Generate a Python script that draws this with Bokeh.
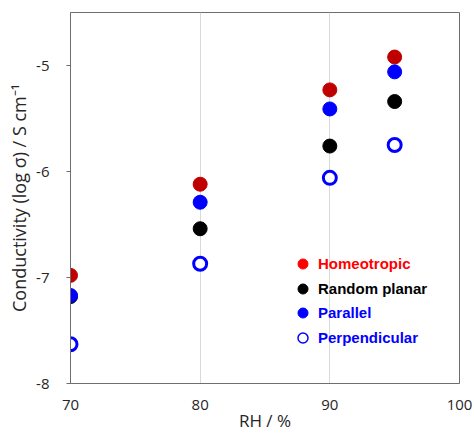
import numpy as np
from bokeh.plotting import figure
from bokeh.models import Legend, LegendItem, FixedTicker, Range1d
from bokeh.embed import file_html
from bokeh.resources import INLINE

# ---- data ----
rh = [70, 80, 90, 95]
homeotropic = [-6.98, -6.12, -5.23, -4.92]
random_planar = [-7.18, -6.54, -5.76, -5.34]
parallel = [-7.17, -6.29, -5.41, -5.06]
perpendicular = [-7.63, -6.87, -6.06, -5.75]

series_names = ["Homeotropic", "Random planar", "Parallel", "Perpendicular"]
marker_colors = ["#c00000", "#000000", "#0000ff", "#0000ff"]
legend_colors = ["#ff0000", "#000000", "#0000ff", "#0000ff"]
x_ticks = [70, 80, 90, 100]
y_ticks = [-8, -7, -6, -5]
y_tick_labels = ["-8", "-7", "-6", "-5"]

p = figure(
    frame_width=389, frame_height=371,
    min_border_left=70, min_border_right=15, min_border_top=12, min_border_bottom=53,
    x_range=Range1d(70, 100), y_range=Range1d(-8, -4.5),
    output_backend="svg", toolbar_location=None,
)
p.background_fill_color = "white"
p.border_fill_color = "white"
p.outline_line_color = "#6e6e6e"
p.outline_line_width = 1

# axes
p.xaxis.ticker = FixedTicker(ticks=x_ticks)
p.yaxis.ticker = FixedTicker(ticks=y_ticks)
p.yaxis.major_label_overrides = {t: s for t, s in zip(y_ticks, y_tick_labels)}
p.xaxis.axis_label = "RH / %"
p.yaxis.axis_label = "Conductivity (log σ) / S cm⁻¹"
for ax in (p.xaxis[0], p.yaxis[0]):
    ax.axis_line_color = "#6e6e6e"
    ax.major_tick_line_color = "#6e6e6e"
    ax.minor_tick_line_color = None
    ax.major_label_text_font = "Open Sans"
    ax.major_label_text_font_size = "15px"
    ax.major_label_text_color = "#262626"
    ax.axis_label_text_font = "Open Sans"
    ax.axis_label_text_font_style = "normal"
    ax.axis_label_text_color = "#262626"
p.xaxis.axis_label_text_font_size = "17px"
p.yaxis.axis_label_text_font_size = "18px"
p.xaxis.major_tick_in = 0
p.xaxis.major_tick_out = 0
p.xaxis.major_label_standoff = 16
p.xaxis.axis_label_standoff = -4
p.yaxis.major_tick_in = 0
p.yaxis.major_tick_out = 4
p.yaxis.major_label_standoff = 17
p.yaxis.axis_label_standoff = 2

p.xgrid.ticker = FixedTicker(ticks=x_ticks)
p.xgrid.grid_line_color = "#d9d9d9"
p.ygrid.grid_line_color = None

# data markers
p.scatter(rh, homeotropic, size=14, fill_color=marker_colors[0], line_color=marker_colors[0])
p.scatter(rh, random_planar, size=14, fill_color=marker_colors[1], line_color=marker_colors[1])
p.scatter(rh, parallel, size=14, fill_color=marker_colors[2], line_color=marker_colors[2])
p.scatter(rh, perpendicular, size=13, fill_color="white", line_color=marker_colors[3], line_width=3)

# legend (one legend per entry so each label gets its own colour)
legend_y = [107, 82, 58, 33]
for i, name in enumerate(series_names):
    if i == 3:
        r = p.scatter([np.nan], [np.nan], fill_color="white", line_color=legend_colors[i], line_width=1.5)
    else:
        r = p.scatter([np.nan], [np.nan], fill_color=legend_colors[i], line_color=legend_colors[i])
    lg = Legend(
        items=[LegendItem(label=name, renderers=[r])],
        location=(220, legend_y[i]),
        glyph_width=25, glyph_height=25, label_standoff=3,
        padding=0, margin=0, spacing=0,
        border_line_alpha=0, background_fill_alpha=0,
        label_text_font="Liberation Sans", label_text_font_size="15px",
        label_text_font_style="bold", label_text_color=legend_colors[i],
    )
    p.add_layout(lg, "center")

open("out.html", "w").write(file_html(p, INLINE))
